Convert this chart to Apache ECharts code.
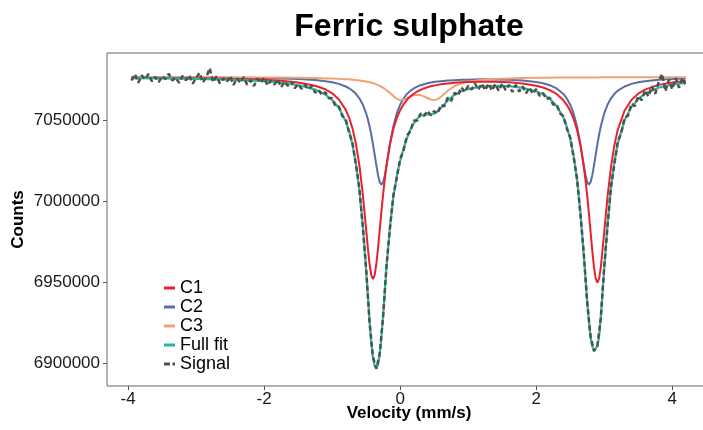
<!DOCTYPE html>
<html>
<head>
<meta charset="utf-8">
<script src="https://cdn.jsdelivr.net/npm/echarts@6/dist/echarts.min.js"></script>
<style>
html,body{margin:0;padding:0;background:#fff;}
#main{width:703px;height:430px;}
</style>
</head>
<body>
<div id="main"></div>
<script>
// ---------- data ----------
const titleText = 'Ferric sulphate';
const xTickValues = [-4, -2, 0, 2, 4];
const yTickValues = [6900000, 6950000, 7000000, 7050000];
const seriesNames = ['C1', 'C2', 'C3', 'Full fit', 'Signal'];

const fitVelocity = [-3.95, -3.5, -3.0, -2.5, -2.0, -1.75, -1.5, -1.25, -1.1, -1.0, -0.9, -0.8, -0.75, -0.7, -0.65, -0.6, -0.55, -0.5, -0.475, -0.45, -0.425, -0.4, -0.375, -0.35, -0.325, -0.3, -0.275, -0.25, -0.225, -0.2, -0.15, -0.1, -0.05, 0, 0.05, 0.1, 0.15, 0.2, 0.25, 0.3, 0.35, 0.4, 0.45, 0.5, 0.55, 0.6, 0.7, 0.8, 0.9, 1.0, 1.2, 1.4, 1.6, 1.8, 2.0, 2.1, 2.2, 2.3, 2.4, 2.45, 2.5, 2.55, 2.6, 2.65, 2.7, 2.725, 2.75, 2.775, 2.8, 2.825, 2.85, 2.875, 2.9, 2.925, 2.95, 3.0, 3.05, 3.1, 3.15, 3.2, 3.3, 3.4, 3.5, 3.6, 3.8, 4.0, 4.2];

const c1Counts = [7076100, 7076000, 7075800, 7075500, 7074900, 7074300, 7073200, 7071200, 7069000, 7066500, 7062700, 7056300, 7051400, 7044700, 7035300, 7022300, 7004600, 6982500, 6971200, 6961300, 6954400, 6951900, 6954400, 6961300, 6971200, 6982500, 6993900, 7004500, 7014000, 7022200, 7035200, 7044500, 7051200, 7056100, 7059700, 7062500, 7064600, 7066200, 7067600, 7068600, 7069500, 7070200, 7070800, 7071300, 7071700, 7072100, 7072600, 7073000, 7073300, 7073500, 7073700, 7073600, 7073300, 7072600, 7071200, 7070100, 7068500, 7066100, 7062200, 7059400, 7055700, 7050800, 7044000, 7034500, 7021200, 7012900, 7003200, 6992400, 6980800, 6969300, 6959200, 6952200, 6949700, 6952200, 6959200, 6980800, 7003300, 7021300, 7034600, 7044100, 7055900, 7062400, 7066300, 7068800, 7071700, 7073200, 7074100];

const c2Counts = [7076300, 7076300, 7076200, 7076100, 7075900, 7075600, 7075300, 7074700, 7074000, 7073300, 7072300, 7070700, 7069600, 7068100, 7066200, 7063400, 7059600, 7054100, 7050500, 7046200, 7041100, 7035200, 7028700, 7022100, 7016000, 7011700, 7010100, 7011700, 7016000, 7022000, 7035200, 7046200, 7054100, 7059500, 7063300, 7066100, 7068000, 7069500, 7070600, 7071500, 7072100, 7072700, 7073100, 7073500, 7073800, 7074000, 7074400, 7074600, 7074800, 7074900, 7075100, 7075000, 7074800, 7074400, 7073500, 7072700, 7071500, 7069500, 7066100, 7063300, 7059500, 7054100, 7046200, 7035200, 7022000, 7016000, 7011700, 7010100, 7011700, 7016000, 7022100, 7028700, 7035200, 7041100, 7046200, 7054100, 7059600, 7063400, 7066200, 7068100, 7070700, 7072300, 7073300, 7074000, 7074800, 7075300, 7075600];

const c3Counts = [7076400, 7076400, 7076400, 7076300, 7076200, 7076200, 7076100, 7075900, 7075700, 7075600, 7075400, 7075200, 7075100, 7074900, 7074700, 7074400, 7074100, 7073800, 7073600, 7073300, 7073100, 7072800, 7072400, 7072000, 7071600, 7071100, 7070500, 7069900, 7069200, 7068400, 7066700, 7064800, 7063100, 7062300, 7062500, 7063400, 7064500, 7065300, 7065600, 7065400, 7064600, 7063600, 7062600, 7062300, 7062900, 7064400, 7068100, 7070900, 7072600, 7073700, 7074900, 7075400, 7075700, 7075900, 7076100, 7076100, 7076100, 7076200, 7076200, 7076200, 7076200, 7076250, 7076260, 7076270, 7076280, 7076285, 7076290, 7076295, 7076300, 7076305, 7076310, 7076315, 7076320, 7076325, 7076330, 7076340, 7076350, 7076355, 7076360, 7076365, 7076375, 7076385, 7076395, 7076400, 7076410, 7076420, 7076430];

const fullFitCounts = [7075900, 7075700, 7075400, 7074900, 7074000, 7073100, 7071600, 7068800, 7065700, 7062400, 7057400, 7049200, 7043100, 7034700, 7023200, 7007100, 6985300, 6957400, 6942000, 6926000, 6912500, 6903500, 6898500, 6897000, 6899000, 6905500, 6916500, 6930000, 6944500, 6959700, 6984100, 7002500, 7015400, 7024900, 7032500, 7038900, 7044100, 7048000, 7050800, 7052500, 7053300, 7053500, 7053500, 7054000, 7055400, 7057500, 7062100, 7065600, 7067800, 7069200, 7070600, 7071100, 7070900, 7069900, 7067800, 7065900, 7063100, 7058700, 7051500, 7045900, 7038500, 7028100, 7013400, 6993000, 6966600, 6952200, 6938200, 6925800, 6915800, 6910500, 6908000, 6907500, 6910500, 6916600, 6928700, 6958300, 6986200, 7008100, 7024100, 7035600, 7050000, 7058100, 7063000, 7066200, 7069900, 7071900, 7073100];

const signalVelocity = [-3.95, -3.9, -3.85, -3.8, -3.75, -3.7, -3.65, -3.6, -3.55, -3.5, -3.45, -3.4, -3.35, -3.3, -3.25, -3.2, -3.15, -3.1, -3.05, -3.0, -2.95, -2.9, -2.85, -2.8, -2.75, -2.7, -2.65, -2.6, -2.55, -2.5, -2.45, -2.4, -2.35, -2.3, -2.25, -2.2, -2.15, -2.1, -2.05, -2.0, -1.95, -1.9, -1.85, -1.8, -1.75, -1.7, -1.65, -1.6, -1.55, -1.5, -1.45, -1.4, -1.35, -1.3, -1.25, -1.2, -1.15, -1.1, -1.05, -1.0, -0.95, -0.9, -0.85, -0.8, -0.75, -0.7, -0.65, -0.6, -0.55, -0.5, -0.45, -0.4, -0.35, -0.3, -0.25, -0.2, -0.15, -0.1, -0.05, 0, 0.05, 0.1, 0.15, 0.2, 0.25, 0.3, 0.35, 0.4, 0.45, 0.5, 0.55, 0.6, 0.65, 0.7, 0.75, 0.8, 0.85, 0.9, 0.95, 1.0, 1.05, 1.1, 1.15, 1.2, 1.25, 1.3, 1.35, 1.4, 1.45, 1.5, 1.55, 1.6, 1.65, 1.7, 1.75, 1.8, 1.85, 1.9, 1.95, 2.0, 2.05, 2.1, 2.15, 2.2, 2.25, 2.3, 2.35, 2.4, 2.45, 2.5, 2.55, 2.6, 2.65, 2.7, 2.75, 2.8, 2.85, 2.9, 2.95, 3.0, 3.05, 3.1, 3.15, 3.2, 3.25, 3.3, 3.35, 3.4, 3.45, 3.5, 3.55, 3.6, 3.65, 3.7, 3.75, 3.8, 3.85, 3.9, 3.95, 4.0, 4.05, 4.1, 4.15, 4.2];

const signalCounts = [7074400, 7078380, 7073060, 7077640, 7075210, 7078390, 7073870, 7076650, 7073420, 7077200, 7075270, 7078540, 7074410, 7076180, 7072950, 7077220, 7074590, 7077660, 7072430, 7075800, 7079150, 7073200, 7076450, 7082000, 7073350, 7077000, 7072650, 7075800, 7073450, 7077200, 7071610, 7075720, 7072930, 7076540, 7071850, 7074660, 7070970, 7075580, 7072890, 7076100, 7071320, 7074340, 7071860, 7075080, 7070200, 7073700, 7071100, 7073800, 7069700, 7072100, 7069240, 7071780, 7069020, 7071060, 7066800, 7068600, 7065500, 7067200, 7063400, 7063600, 7058400, 7058300, 7052500, 7050500, 7042300, 7035700, 7022300, 7007900, 6984600, 6958300, 6925400, 6904000, 6896600, 6906200, 6929200, 6960700, 6983200, 7003600, 7014400, 7026100, 7031200, 7040400, 7043100, 7049800, 7049600, 7054100, 7052400, 7055700, 7052900, 7055500, 7054000, 7059400, 7058500, 7063900, 7061800, 7066800, 7065000, 7070200, 7067300, 7071100, 7068700, 7072550, 7068800, 7072600, 7068350, 7072600, 7068200, 7072200, 7067950, 7072600, 7068450, 7071700, 7067350, 7071700, 7067550, 7070800, 7066500, 7070000, 7066150, 7069200, 7064900, 7066800, 7062900, 7063800, 7059500, 7059800, 7054200, 7052400, 7044900, 7039300, 7027200, 7014100, 6992200, 6967500, 6937500, 6916400, 6907500, 6910900, 6927900, 6959200, 6985200, 7009200, 7022900, 7036900, 7041900, 7051500, 7052700, 7060100, 7058600, 7064800, 7062200, 7068400, 7064500, 7070900, 7066150, 7073400, 7078500, 7067800, 7074850, 7069000, 7075850, 7069950, 7076150, 7071000];

// ---------- chart ----------
function pairs(xs, ys) { return xs.map(function (v, i) { return [v, ys[i]]; }); }

const FONT = '"Liberation Sans", Arial, Helvetica, sans-serif';
const chart = echarts.init(document.getElementById('main'), null, { renderer: 'canvas' });

const lineBase = { type: 'line', symbol: 'none', showSymbol: false, smooth: false, clip: true, animation: false };

const legendIcons = {
  'C1': 'rect', 'C2': 'rect', 'C3': 'rect', 'Full fit': 'rect',
  'Signal': 'path://M0,0h6v3h-6z M8.5,0h2.5v3h-2.5z'
};

chart.setOption({
  animation: false,
  backgroundColor: '#ffffff',
  textStyle: { fontFamily: FONT },
  graphic: [{
    type: 'text',
    x: 409, y: 27,
    style: {
      text: titleText,
      font: 'bold 32px ' + FONT,
      fill: '#000',
      textAlign: 'center', textVerticalAlign: 'middle',
      align: 'center', verticalAlign: 'middle'
    }
  }],
  grid: {
    left: 107, top: 53, width: 604, height: 333,
    containLabel: false, outerBoundsMode: 'none',
    show: true, borderColor: '#666', borderWidth: 1, backgroundColor: 'transparent'
  },
  legend: {
    data: seriesNames.map(function (n) { return { name: n, icon: legendIcons[n] }; }),
    orient: 'vertical',
    left: 164, top: 279,
    padding: 0,
    itemWidth: 11, itemHeight: 3, itemGap: 1,
    textStyle: { fontSize: 18, color: '#000', fontFamily: FONT, lineHeight: 18 }
  },
  xAxis: {
    type: 'value', min: -4.31, max: 4.57,
    axisLine: { show: false, onZero: false },
    axisTick: { show: true, length: 4, lineStyle: { color: '#555' }, customValues: xTickValues },
    axisLabel: { customValues: xTickValues, fontSize: 17, color: '#1a1a1a', margin: 5, fontFamily: FONT },
    splitLine: { show: false },
    name: 'Velocity (mm/s)', nameLocation: 'middle', nameGap: 19, nameMoveOverlap: false,
    nameTextStyle: { fontWeight: 'bold', fontSize: 17, color: '#000', fontFamily: FONT }
  },
  yAxis: {
    type: 'value', min: 6885988, max: 7091358,
    axisLine: { show: false, onZero: false },
    axisTick: { show: true, length: 4, lineStyle: { color: '#555' }, customValues: yTickValues },
    axisLabel: {
      customValues: yTickValues, fontSize: 17, color: '#1a1a1a', margin: 7, fontFamily: FONT,
      formatter: function (v) { return String(Math.round(v)); }
    },
    splitLine: { show: false },
    name: 'Counts', nameLocation: 'middle', nameGap: 80, nameRotate: 90, nameMoveOverlap: false,
    nameTextStyle: { fontWeight: 'bold', fontSize: 17, color: '#000', fontFamily: FONT }
  },
  series: [
    Object.assign({}, lineBase, { name: 'C1', data: pairs(fitVelocity, c1Counts), z: 3,
      itemStyle: { color: '#E8222A' }, lineStyle: { color: '#E8222A', width: 2 } }),
    Object.assign({}, lineBase, { name: 'C2', data: pairs(fitVelocity, c2Counts), z: 2,
      itemStyle: { color: '#5A6DA6' }, lineStyle: { color: '#5A6DA6', width: 2 } }),
    Object.assign({}, lineBase, { name: 'C3', data: pairs(fitVelocity, c3Counts), z: 2,
      itemStyle: { color: '#F0A272' }, lineStyle: { color: '#F0A272', width: 2 } }),
    Object.assign({}, lineBase, { name: 'Full fit', data: pairs(fitVelocity, fullFitCounts), z: 4,
      itemStyle: { color: '#27B99B' }, lineStyle: { color: '#27B99B', width: 2.2 } }),
    Object.assign({}, lineBase, { name: 'Signal', data: pairs(signalVelocity, signalCounts), z: 5,
      itemStyle: { color: '#505050' }, lineStyle: { color: '#505050', width: 2.5, type: [5, 3] } })
  ]
});
</script>
</body>
</html>
